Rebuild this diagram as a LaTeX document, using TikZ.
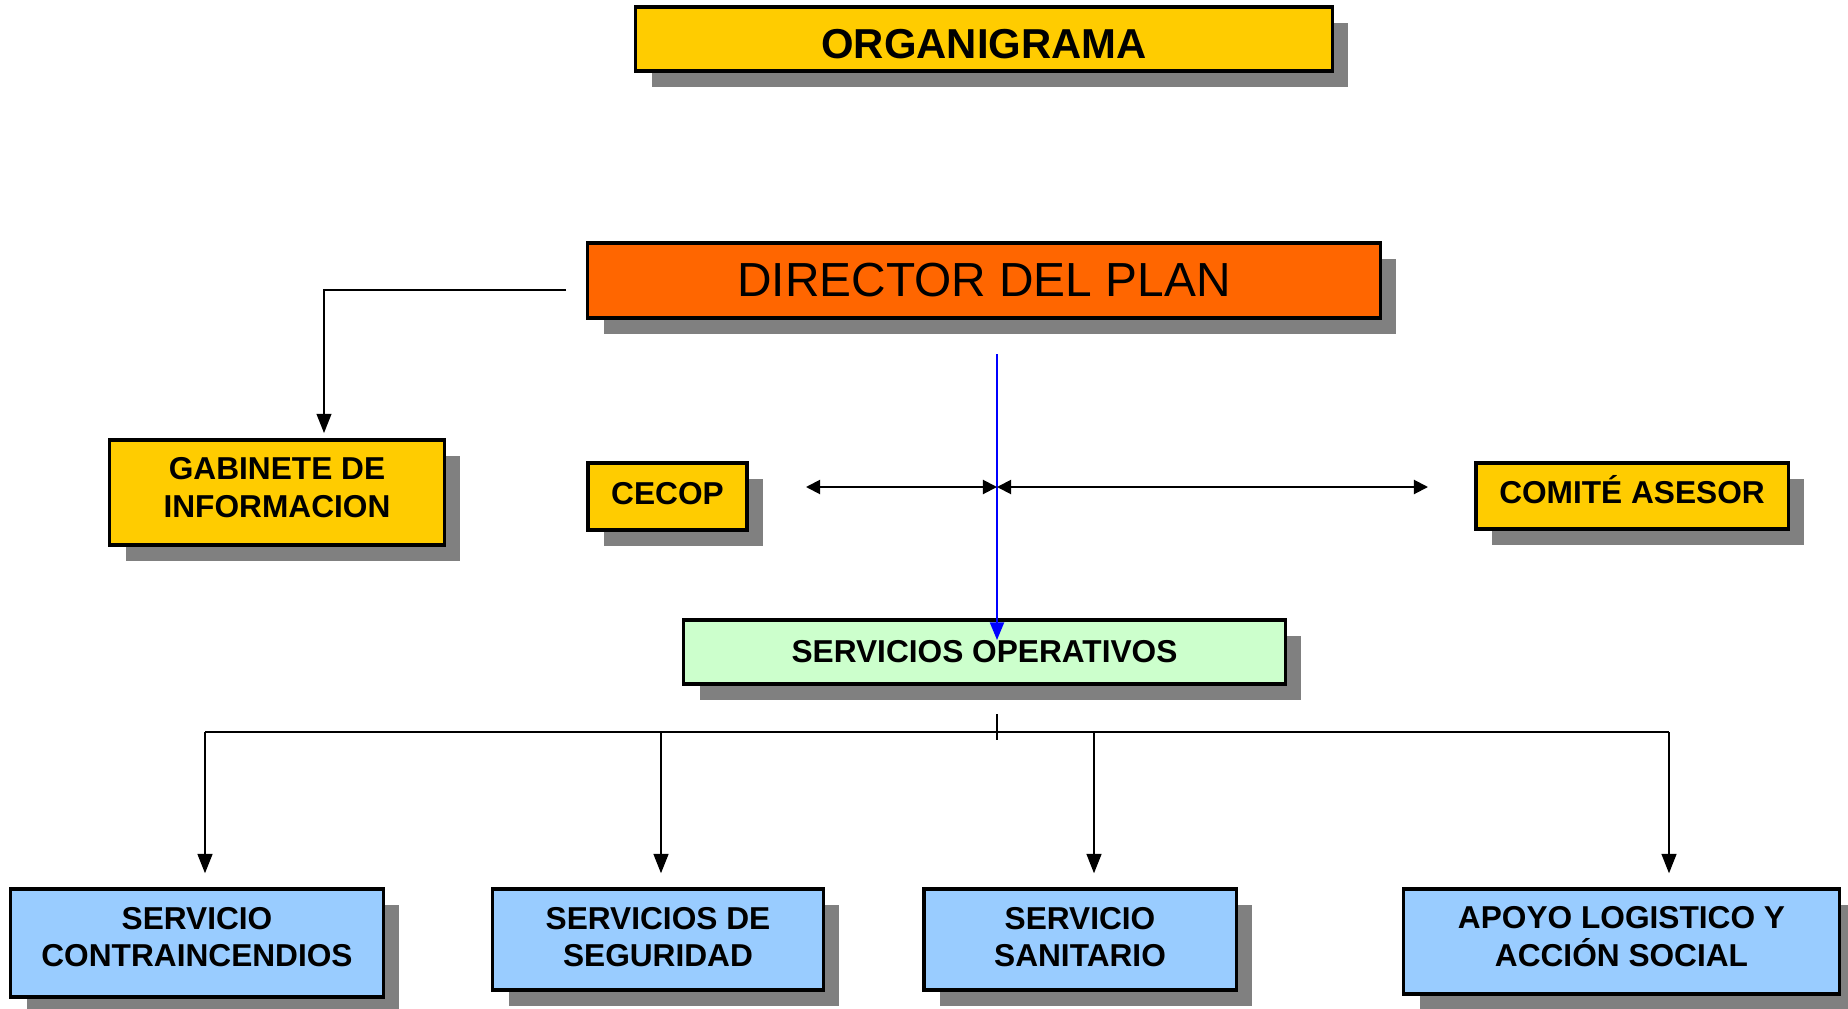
\documentclass[tikz,border=0pt]{standalone}
\usepackage{fontspec}
\setmainfont{Liberation Sans}
\usepackage{tikz}
\usetikzlibrary{positioning,arrows.meta,shadows}

\definecolor{amarillo}{HTML}{FFCC00}
\definecolor{naranja}{HTML}{FF6600}
\definecolor{verde}{HTML}{CCFFCC}
\definecolor{celeste}{HTML}{99CCFF}
\definecolor{sombra}{HTML}{808080}

\begin{document}
\begin{tikzpicture}[x=0.01cm, y=-0.01cm,
    caja/.style={draw, line width=0.9pt, inner sep=0pt, align=center,
        font=\fontsize{9}{10.7}\selectfont\bfseries,
        drop shadow={fill=sombra, opacity=1, shadow xshift=0.16cm, shadow yshift=-0.16cm}},
    sube/.style={execute at end node={\rule[-#1]{0pt}{#1}}},
    flecha/.style={line width=0.55pt, -{Triangle[length=5.5pt,width=4.2pt]}},
    doble/.style={line width=0.55pt, {Triangle[length=4pt,width=4pt]}-{Triangle[length=4pt,width=4pt]}}]

    \useasboundingbox (0,0) rectangle (1848,1009);

    % Title
    \node[caja, fill=amarillo, minimum width=6.96cm, minimum height=0.64cm, text height=11pt, text depth=0pt,
        font=\fontsize{11.9}{14}\selectfont\bfseries] (org) at (984,39) {ORGANIGRAMA};

    % Director
    \node[caja, fill=naranja, minimum width=7.92cm, minimum height=0.75cm,
        font=\fontsize{13.6}{16}\selectfont] (dir) at (984,280.5) {DIRECTOR DEL PLAN};

    % Second level
    \node[caja, sube=2.7pt, fill=amarillo, minimum width=3.34cm, minimum height=1.05cm] (gab) at (277,492.5) {GABINETE DE\\INFORMACION};
    \node[caja, sube=2pt, fill=amarillo, minimum width=1.59cm, minimum height=0.67cm] (cecop) at (667.5,496.5) {CECOP};
    \node[caja, sube=3.6pt, fill=amarillo, minimum width=3.12cm, minimum height=0.66cm] (comite) at (1632,496) {COMITÉ ASESOR};
    \node[caja, fill=verde, minimum width=6.01cm, minimum height=0.64cm] (servop) at (984.5,652) {SERVICIOS OPERATIVOS};

    % Services
    \node[caja, sube=3.4pt, fill=celeste, minimum width=3.72cm, minimum height=1.08cm] (s1) at (197,943) {SERVICIO\\CONTRAINCENDIOS};
    \node[caja, sube=1.4pt, fill=celeste, minimum width=3.30cm, minimum height=1.01cm] (s2) at (658,939.5) {SERVICIOS DE\\SEGURIDAD};
    \node[caja, sube=1.4pt, fill=celeste, minimum width=3.12cm, minimum height=1.01cm] (s3) at (1080,939.5) {SERVICIO\\SANITARIO};
    \node[caja, sube=2.7pt, fill=celeste, minimum width=4.35cm, minimum height=1.05cm] (s4) at (1621.5,941.5) {APOYO LOGISTICO Y\\ACCIÓN SOCIAL};

    % Director -> gabinete
    \coordinate (g1) at (566,290);
    \coordinate (g2) at (324,290);
    \draw[flecha, shorten >=1.5pt] (g1) -- (g2) -- (g2 |- gab.north);

    % Director -> servicios operativos (blue)
    \coordinate (b1) at (997,354);
    \coordinate (b2) at (997,640);
    \draw[line width=0.5pt, blue, -{Triangle[length=5pt,width=4pt]}] (b1) -- (b2);

    % CECOP <-> comite
    \coordinate (c1) at (806,487);
    \coordinate (c2) at (997,487);
    \coordinate (c3) at (1428,487);
    \draw[doble] (c1) -- (c2);
    \draw[doble] (c2) -- (c3);

    % Bus to services
    \coordinate (t1) at (997,714);
    \coordinate (t2) at (997,740);
    \draw[line width=0.4pt] (t1) -- (t2);
    \coordinate (bl) at (205,732);
    \coordinate (br) at (1669,732);
    \draw[line width=0.55pt] (bl) -- (br);
    \foreach \x/\n in {205/s1, 661/s2, 1094/s3, 1669/s4}
        \draw[flecha, shorten >=4pt] (\x,732) -- (\x,0 |- \n.north);
\end{tikzpicture}
\end{document}
